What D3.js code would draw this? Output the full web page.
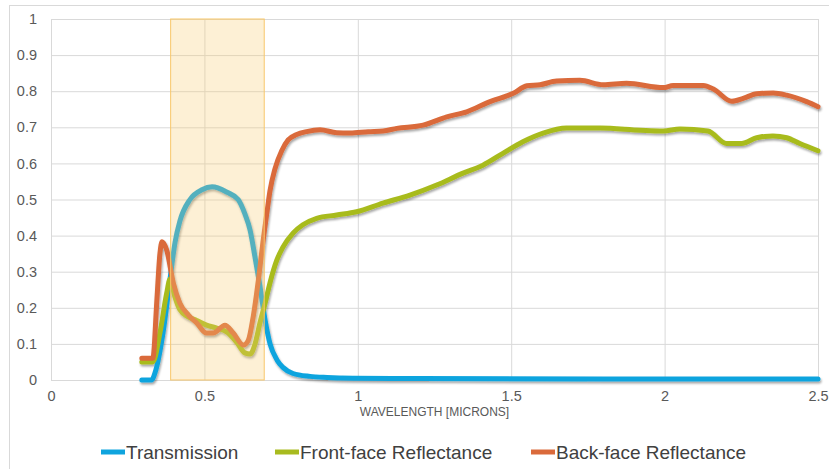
<!DOCTYPE html>
<html>
<head>
<meta charset="utf-8">
<script src="https://cdn.jsdelivr.net/npm/d3@7"></script>
<style>
    body { margin: 0; background: #fff; }
    text { font-family: "Liberation Sans", Arial, sans-serif; }
</style>
</head>
<body>
<div id="chart"></div>
<script>
// series: [wavelength (microns), value]
let transmission = [
    [0.296, 0], [0.328, 0], [0.339, 0.02], [0.365, 0.13], [0.388, 0.28], [0.404, 0.38],
    [0.42, 0.44], [0.453, 0.50], [0.492, 0.527], [0.525, 0.535], [0.574, 0.52], [0.61, 0.50],
    [0.632, 0.46], [0.649, 0.415], [0.665, 0.34], [0.681, 0.26], [0.698, 0.165], [0.714, 0.10],
    [0.737, 0.055], [0.756, 0.035], [0.789, 0.018], [0.844, 0.01], [0.90, 0.007], [0.984, 0.005],
    [1.2, 0.004], [1.8, 0.003], [2.5, 0.003]
];
let frontReflectance = [
    [0.296, 0.05], [0.332, 0.05], [0.355, 0.13], [0.377, 0.24], [0.388, 0.28], [0.404, 0.23],
    [0.42, 0.195], [0.447, 0.175], [0.475, 0.165], [0.507, 0.152], [0.54, 0.144], [0.573, 0.133],
    [0.605, 0.105], [0.632, 0.075], [0.649, 0.072], [0.665, 0.10], [0.681, 0.158], [0.698, 0.213],
    [0.714, 0.27], [0.736, 0.332], [0.756, 0.368], [0.789, 0.407], [0.821, 0.43], [0.866, 0.448],
    [0.931, 0.457], [0.996, 0.466], [1.082, 0.49], [1.17, 0.512], [1.257, 0.54], [1.343, 0.573],
    [1.408, 0.595], [1.473, 0.628], [1.538, 0.66], [1.604, 0.684], [1.681, 0.698], [1.79, 0.698],
    [1.922, 0.692], [1.995, 0.69], [2.05, 0.695], [2.141, 0.69], [2.202, 0.655], [2.251, 0.655],
    [2.30, 0.671], [2.353, 0.676], [2.398, 0.671], [2.441, 0.655], [2.5, 0.635]
];
let backReflectance = [
    [0.296, 0.06], [0.332, 0.06], [0.345, 0.22], [0.355, 0.35], [0.362, 0.383], [0.377, 0.36],
    [0.399, 0.268], [0.42, 0.213], [0.448, 0.18], [0.475, 0.158], [0.507, 0.13], [0.529, 0.13],
    [0.567, 0.152], [0.594, 0.13], [0.627, 0.097], [0.643, 0.11], [0.659, 0.175], [0.676, 0.277],
    [0.692, 0.39], [0.704, 0.465], [0.714, 0.525], [0.73, 0.585], [0.752, 0.635], [0.773, 0.665],
    [0.801, 0.68], [0.833, 0.688], [0.877, 0.693], [0.931, 0.685], [0.975, 0.684], [1.034, 0.688],
    [1.082, 0.69], [1.127, 0.697], [1.213, 0.706], [1.29, 0.729], [1.355, 0.743],
    [1.431, 0.771], [1.507, 0.794], [1.551, 0.815], [1.594, 0.818], [1.648, 0.828], [1.724, 0.83],
    [1.80, 0.818], [1.876, 0.822], [1.996, 0.81], [2.028, 0.816], [2.126, 0.816], [2.159, 0.806],
    [2.219, 0.772], [2.256, 0.78], [2.30, 0.793], [2.354, 0.795], [2.398, 0.789], [2.463, 0.771],
    [2.5, 0.757]
];
let seriesNames = ["Transmission", "Front-face Reflectance", "Back-face Reflectance"];
let xTicks = [0, 0.5, 1, 1.5, 2, 2.5];
let yTicks = [0, 0.1, 0.2, 0.3, 0.4, 0.5, 0.6, 0.7, 0.8, 0.9, 1];
let visibleBand = [0.39, 0.695];

let width = 829, height = 469;
let colors = ["#0fa4de", "#a8bb1f", "#da6a3b"];
let seriesData = [transmission, frontReflectance, backReflectance];

let svg = d3.select("#chart").append("svg")
    .attr("width", width)
    .attr("height", height);

// light frame round the chart
svg.append("rect")
    .attr("x", 9.5).attr("y", 5.5)
    .attr("width", width).attr("height", height)
    .attr("fill", "none")
    .attr("stroke", "#d9d9d9");

let defs = svg.append("defs");
defs.append("filter")
    .attr("id", "shadow")
    .attr("x", "-5%").attr("y", "-5%").attr("width", "110%").attr("height", "120%")
    .append("feDropShadow")
    .attr("dx", 1).attr("dy", 2)
    .attr("stdDeviation", 1.2)
    .attr("flood-color", "#000")
    .attr("flood-opacity", 0.35);

let x = d3.scaleLinear().domain([0, 2.5]).range([51, 818]);
let y = d3.scaleLinear().domain([0, 1]).range([380, 19]);

// gridlines
svg.append("g")
    .attr("transform", "translate(51,0)")
    .call(d3.axisLeft(y).tickValues(yTicks).tickSize(-767).tickFormat(""))
    .call(g => g.select(".domain").remove())
    .call(g => g.selectAll("line").attr("stroke", "#d9d9d9"));
svg.append("g")
    .attr("transform", "translate(0,19)")
    .call(d3.axisBottom(x).tickValues(xTicks).tickSize(361).tickFormat(""))
    .call(g => g.select(".domain").remove())
    .call(g => g.selectAll("line").attr("stroke", "#d9d9d9"));

// tick labels
svg.append("g")
    .attr("transform", "translate(43,0)")
    .call(d3.axisLeft(y).tickValues(yTicks).tickSize(0).tickFormat(d3.format("")))
    .call(g => g.select(".domain").remove())
    .call(g => g.selectAll("text")
        .attr("x", -6)
        .attr("fill", "#595959")
        .style("font-size", "14.5px"));
svg.append("g")
    .attr("transform", "translate(0,388)")
    .call(d3.axisBottom(x).tickValues(xTicks).tickSize(0).tickFormat(d3.format("")))
    .call(g => g.select(".domain").remove())
    .call(g => g.selectAll("text")
        .attr("fill", "#595959")
        .style("font-size", "14.5px"));

svg.append("text")
    .attr("x", (x(0) + x(2.5)) / 2)
    .attr("y", 416)
    .attr("text-anchor", "middle")
    .attr("fill", "#595959")
    .style("font-size", "12px")
    .text("WAVELENGTH [MICRONS]");

// curves
let line = d3.line()
    .x(d => x(d[0]))
    .y(d => y(d[1]))
    .curve(d3.curveMonotoneX);

svg.append("g").attr("filter", "url(#shadow)")
    .selectAll("path")
    .data(seriesData)
    .enter()
    .append("path")
    .attr("d", line)
    .attr("fill", "none")
    .attr("stroke", (d, i) => colors[i])
    .attr("stroke-width", 5)
    .attr("stroke-linejoin", "round")
    .attr("stroke-linecap", "round");

// visible band, drawn over the curves
svg.append("rect")
    .attr("x", x(visibleBand[0]))
    .attr("y", y(1))
    .attr("width", x(visibleBand[1]) - x(visibleBand[0]))
    .attr("height", y(0) - y(1))
    .attr("fill", "rgba(248,205,115,0.3)")
    .attr("stroke", "#f8c76a")
    .attr("stroke-width", 1);

// legend
let legendX = [101, 275, 531];
let legend = svg.append("g")
    .selectAll("g")
    .data(seriesNames)
    .enter()
    .append("g")
    .attr("transform", (d, i) => "translate(" + legendX[i] + ",452)");
legend.append("line")
    .attr("x1", 0).attr("x2", 24)
    .attr("stroke", (d, i) => colors[i])
    .attr("stroke-width", 5);
legend.append("text")
    .attr("x", 25)
    .attr("dy", "0.35em")
    .attr("fill", "#404040")
    .style("font-size", "19px")
    .text(d => d);
</script>
</body>
</html>
